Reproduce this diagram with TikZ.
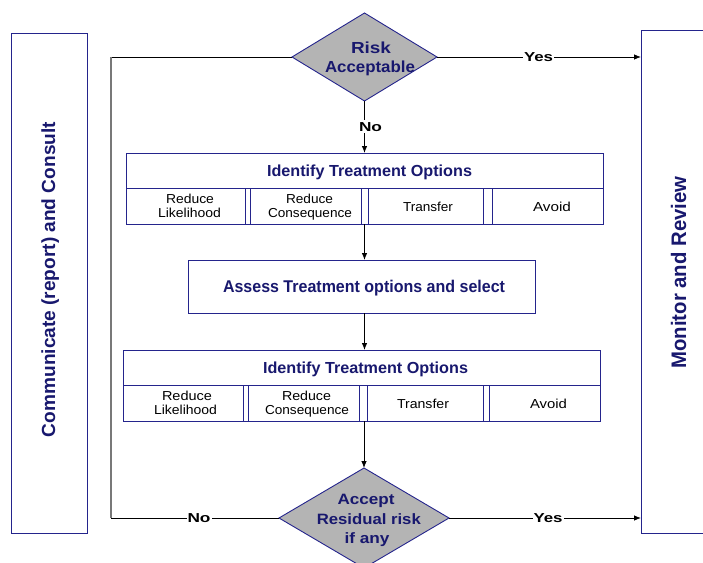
\documentclass[tikz,border=0pt]{standalone}
\usepackage{fontspec}
\setmainfont{Liberation Sans}
\usepackage{graphicx}
\usetikzlibrary{shapes.geometric,arrows.meta}
\definecolor{navyline}{RGB}{36,36,140}
\definecolor{navytext}{RGB}{24,24,110}
\definecolor{diagray}{RGB}{180,180,180}
\definecolor{sidegray}{RGB}{120,120,120}
\newsavebox\sqbox
\newcommand\sqz[3]{%
  \sbox\sqbox{\fontsize{#2}{#2}\selectfont #3}%
  \edef\sqf{\fpeval{(#1)/(\the\wd\sqbox)}}%
  \scalebox{\sqf}[1]{\usebox\sqbox}}
\tikzset{
  frame/.style={draw=navyline, line width=0.9pt, inner sep=0pt, outer sep=0pt, fill=white},
  dia/.style={diamond, draw=navyline, fill=diagray, line width=0.9pt, inner sep=0pt, outer sep=0pt},
  lbl/.style={anchor=base, inner sep=0pt, outer sep=0pt},
  navylbl/.style={lbl, font=\bfseries, text=navytext},
  sublbl/.style={lbl, text=black},
  yn/.style={anchor=base, font=\bfseries, text=black, fill=white, inner xsep=1pt, inner ysep=2pt},
  conn/.style={draw=black, line width=0.8pt},
  arr/.style={conn, -{Latex[length=7pt,width=5.5pt]}},
}
\begin{document}
\begin{tikzpicture}[x=1pt,y=-1pt]
\useasboundingbox (0,0) rectangle (703,562);
% side boxes
\node[frame, minimum width=76pt, minimum height=500pt] (lb) at (49,283) {};
\node[frame, minimum width=70pt, minimum height=503pt] (rb) at (676,281.5) {};
\node[navylbl, rotate=90] (lbt) at (55,279.5) {\sqz{315}{19}{Communicate (report) and Consult}};
\node[navylbl, rotate=90] (rbt) at (686,272.5) {\sqz{192}{21}{Monitor and Review}};
% decision 1
\node[dia, minimum width=145pt, minimum height=88pt] (d1) at (364.5,57) {};
\node[navylbl] (d1a) at (371,53) {\sqz{40}{16}{Risk}};
\node[navylbl] (d1b) at (370,72) {\sqz{90}{16}{Acceptable}};
% options block 1
\node[frame, minimum width=477pt, minimum height=71pt] (b1) at (364.5,188.5) {};
\node[frame, minimum width=477pt, minimum height=35pt] (h1) at (364.5,170.5) {};
\node[frame, minimum width=119pt, minimum height=36pt] (s11) at (185.5,206) {};
\node[frame, minimum width=111pt, minimum height=36pt] (s12) at (305.5,206) {};
\node[frame, minimum width=115pt, minimum height=36pt] (s13) at (425.5,206) {};
\node[frame, minimum width=111pt, minimum height=36pt] (s14) at (547.5,206) {};
\node[navylbl] (h1t) at (369.5,176.5) {\sqz{205}{16}{Identify Treatment Options}};
\node[sublbl] (s11a) at (190,203.5) {\sqz{48}{13}{Reduce}};
\node[sublbl] (s11b) at (189.5,217.3) {\sqz{63}{13}{Likelihood}};
\node[sublbl] (s12a) at (309.5,203.5) {\sqz{47}{13}{Reduce}};
\node[sublbl] (s12b) at (310,217.3) {\sqz{84}{13}{Consequence}};
\node[sublbl] (s13a) at (428,211.5) {\sqz{50}{13}{Transfer}};
\node[sublbl] (s14a) at (552,211.5) {\sqz{38}{13}{Avoid}};
% assess
\node[frame, minimum width=347pt, minimum height=53pt] (as) at (361.5,286.5) {};
\node[navylbl] (ast) at (364,292) {\sqz{282}{17}{Assess Treatment options and select}};
% options block 2
\node[frame, minimum width=477pt, minimum height=71pt] (b2) at (361.5,385.5) {};
\node[frame, minimum width=477pt, minimum height=35pt] (h2) at (361.5,367.5) {};
\node[frame, minimum width=120pt, minimum height=36pt] (s21) at (183,403) {};
\node[frame, minimum width=111pt, minimum height=36pt] (s22) at (303.5,403) {};
\node[frame, minimum width=116pt, minimum height=36pt] (s23) at (425,403) {};
\node[frame, minimum width=111pt, minimum height=36pt] (s24) at (544.5,403) {};
\node[navylbl] (h2t) at (365.5,373.3) {\sqz{205}{16}{Identify Treatment Options}};
\node[sublbl] (s21a) at (187,400.5) {\sqz{50}{13}{Reduce}};
\node[sublbl] (s21b) at (185.5,414.5) {\sqz{63}{13}{Likelihood}};
\node[sublbl] (s22a) at (306.5,400.5) {\sqz{49}{13}{Reduce}};
\node[sublbl] (s22b) at (307,414.5) {\sqz{84}{13}{Consequence}};
\node[sublbl] (s23a) at (423,408) {\sqz{52}{13}{Transfer}};
\node[sublbl] (s24a) at (548.5,408) {\sqz{37}{13}{Avoid}};
% decision 2
\node[dia, minimum width=170pt, minimum height=100pt] (d2) at (364,518) {};
\node[navylbl] (d2a) at (366,504) {\sqz{57}{15}{Accept}};
\node[navylbl] (d2b) at (368.8,524) {\sqz{104}{15}{Residual risk}};
\node[navylbl] (d2c) at (367,543.5) {\sqz{45}{15}{if any}};
% connectors
\coordinate (lc) at (111,300);
\draw[conn] (d1.west) -- (d1.west -| lc);
\draw[conn, draw=sidegray, line width=1.4pt] (d1.west -| lc) -- (d2.west -| lc);
\draw[conn] (d2.west -| lc) -- (d2.west);
\draw[arr] (d1.east) -- (d1.east -| rb.west);
\draw[arr] (d2.east) -- (d2.east -| rb.west);
\draw[arr] (d1.south) -- (h1.north -| d1.south);
\draw[arr] (b1.south -| d1.south) -- (as.north -| d1.south);
\draw[arr] (as.south -| d1.south) -- (b2.north -| d1.south);
\draw[arr] (b2.south -| d2.north) -- (d2.north);
% connector labels
\node[yn] (y1) at (538.5,61) {\sqz{29}{13}{Yes}};
\node[yn] (n1) at (370.5,131) {\sqz{23}{13}{No}};
\node[yn] (y2) at (548,522) {\sqz{29}{13}{Yes}};
\node[yn] (n2) at (199,522) {\sqz{23}{13}{No}};
\end{tikzpicture}
\end{document}
